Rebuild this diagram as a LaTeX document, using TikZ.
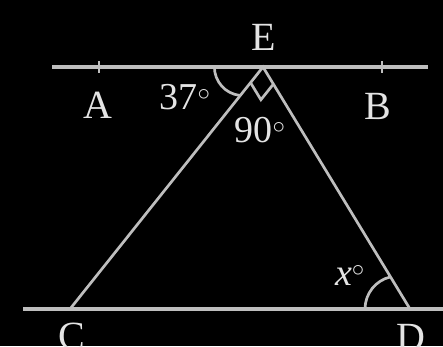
\documentclass[tikz,border=0pt]{standalone}
\usepackage{fontspec}
\setmainfont{Liberation Serif}
\usetikzlibrary{calc}
\definecolor{linegray}{RGB}{190,190,190}
\definecolor{labelgray}{RGB}{228,228,228}
\begin{document}
\begin{tikzpicture}[x=1pt,y=1pt,
  geo/.style={draw=linegray, line width=3.2pt},
  thin/.style={draw=linegray, line width=2.7pt},
  lbl/.style={text=labelgray, font=\fontsize{40}{48}\selectfont, inner sep=0pt},
  ang/.style={text=labelgray, font=\fontsize{38}{46}\selectfont, inner sep=0pt}]
\fill[black] (0,0) rectangle (443,346);
\useasboundingbox (0,0) rectangle (443,346);
% points
\coordinate (L1) at (52,279);
\coordinate (L2) at (428,279);
\coordinate (E) at (263,279);
\coordinate (TA) at (99,279);
\coordinate (TB) at (382,279);
\coordinate (M1) at (23,37);
\coordinate (M2) at (443,37);
\coordinate (C) at (70,37);
\coordinate (D) at (410,37);
% lines
\draw[geo] (L1) -- (L2);
\draw[geo] (M1) -- (M2);
\draw[thin] (TA) ++(0,-6) -- ++(0,12);
\draw[thin] (TB) ++(0,-6) -- ++(0,12);
\draw[thin] (C) -- (E) -- (D);
% angle marks
\draw[thin] (E) ++(-48.6,0) arc[start angle=180,end angle=263.4,radius=28.6];
\draw[thin] (D) ++(-45,0) arc[start angle=180,end angle=103,radius=33];
\coordinate (P1) at ($(E)!20pt!(C)$);
\coordinate (P2) at ($(E)!20pt!(D)$);
\draw[thin, line join=miter] (P1) -- ($(P1)+(P2)-(E)$) -- (P2);
% labels
\node[lbl] (lE) at (264,309) {E};
\node[lbl] (lA) at (97.5,240.5) {A};
\node[lbl] (lB) at (378,240) {B};
\node[lbl] (lC) at (72,10) {C};
\node[lbl] (lD) at (411,9) {D};
\node[ang] (a37) at (185,249) {37$^\circ$};
\node[ang] (a90) at (260,216) {90$^\circ$};
\node[ang] (ax) at (350,71) {\textit{x}$^\circ$};
\end{tikzpicture}
\end{document}
